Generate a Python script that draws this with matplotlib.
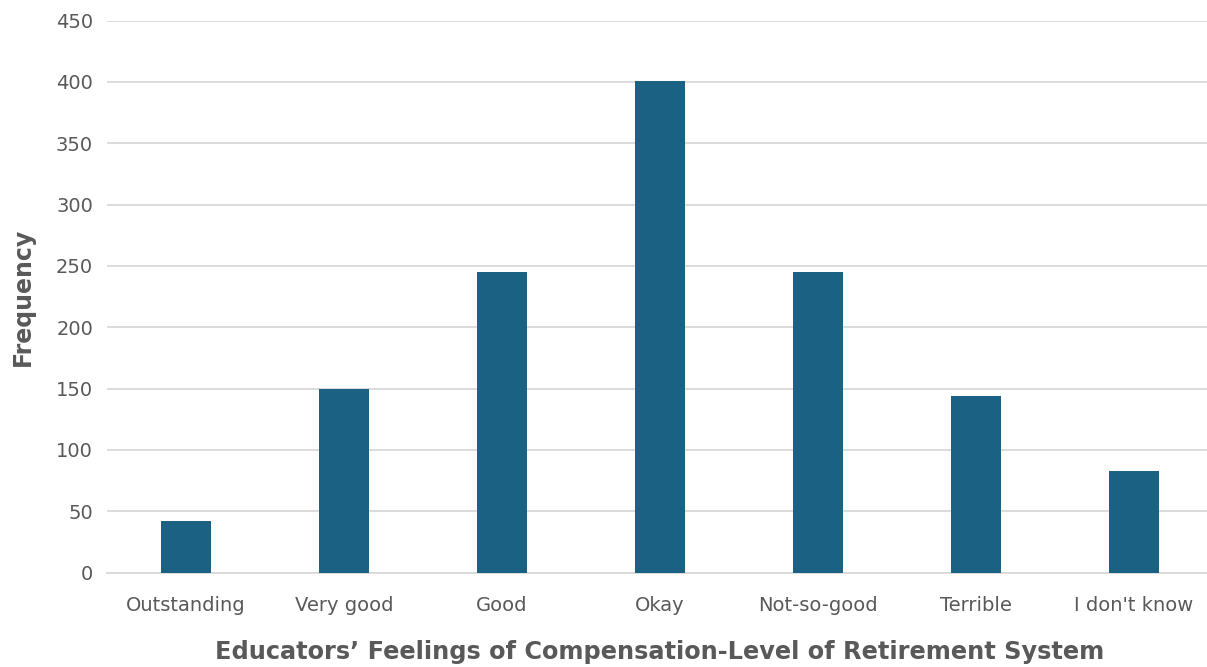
import matplotlib
matplotlib.use("Agg")
import matplotlib.pyplot as plt

categories = ["Outstanding", "Very good", "Good", "Okay", "Not-so-good", "Terrible", "I don't know"]
frequency = [42, 150, 245, 401, 245, 144, 83]
y_ticks = [0, 50, 100, 150, 200, 250, 300, 350, 400, 450]

bar_color = "#1a6184"
text_color = "#595959"
grid_color = "#d9d9d9"

fig = plt.figure(figsize=(12.07, 6.67), dpi=100)
ax = fig.add_axes([107 / 1207, 94.5 / 667, 1106 / 1207, 552 / 667])

x = range(len(categories))
ax.bar(x, frequency, width=0.316, color=bar_color, zorder=3)

ax.set_xlim(-0.5, len(categories) - 0.5)
ax.set_ylim(0, 450)
ax.set_yticks(y_ticks)
ax.set_xticks(list(x))
ax.set_xticklabels(categories)

ax.grid(axis="y", color=grid_color, linewidth=1.3, zorder=0)
for s in ["top", "right", "left"]:
    ax.spines[s].set_visible(False)
ax.spines["bottom"].set_color(grid_color)
ax.spines["bottom"].set_linewidth(1.3)
ax.tick_params(axis="both", length=0, colors=text_color, labelsize=14)
ax.tick_params(axis="y", pad=10)
ax.tick_params(axis="x", pad=17)
for lbl in ax.get_xticklabels() + ax.get_yticklabels():
    lbl.set_fontfamily("DejaVu Sans")

ax.set_xlabel("Educators\u2019 Feelings of Compensation-Level of Retirement System",
              fontsize=17.3, fontweight="bold", family="DejaVu Sans", color=text_color, labelpad=18)
ax.set_ylabel("Frequency", fontsize=17, fontweight="bold", family="DejaVu Sans",
              color=text_color, labelpad=15)

fig.savefig("out.png", dpi=100)
